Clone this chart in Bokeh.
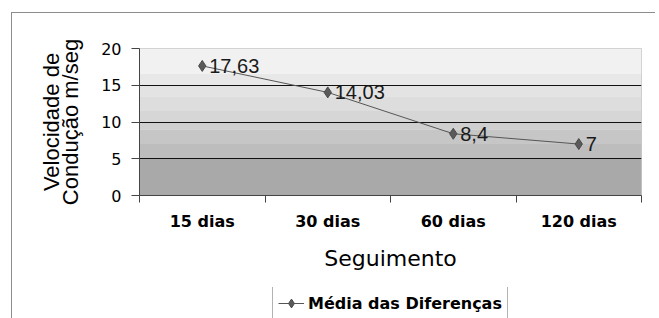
import numpy as np
from bokeh.plotting import figure
from bokeh.layouts import column
from bokeh.models import (FixedTicker, Legend, LegendItem, ColumnDataSource, Range1d,
                          LinearAxis)
from bokeh.core.properties import value
from bokeh.embed import file_html
from bokeh.resources import INLINE

# ---- data ----
categories = ["15 dias", "30 dias", "60 dias", "120 dias"]
values = [17.63, 14.03, 8.4, 7]
value_labels = ["17,63", "14,03", "8,4", "7"]
y_ticks = [0, 5, 10, 15, 20]
series_name = "Média das Diferenças"
y_title_lines = ["Velocidade de", "Condução m/seg"]
x_title = "Seguimento"

# background band edges (value units) and greys
band_bottoms = [0, 5, 7, 9, 10, 11.5, 13.5, 15, 16.6]
band_tops = [5, 7, 9, 10, 11.5, 13.5, 15, 16.6, 20]
band_colors = ["#a9a9a9", "#bdbdbd", "#c6c6c6", "#cfcfcf", "#d6d6d6",
               "#dddddd", "#e3e3e3", "#e8e8e8", "#f1f1f1"]

n = len(categories)
xs = np.arange(n) + 0.5

LINE_COL = "#555555"
MK_FILL = "#5a5a5a"
MK_LINE = "#4a4a4a"
BORDER = "#8c8c8c"

p = figure(width=655, height=287, output_backend="svg", toolbar_location=None,
           x_range=Range1d(0, n), y_range=Range1d(0, 20),
           min_border_left=139, min_border_right=14, min_border_top=48,
           min_border_bottom=92)
p.styles = {"background":
            f"linear-gradient({BORDER},{BORDER}) 11px 12px / 1px 100% no-repeat, "
            f"linear-gradient({BORDER},{BORDER}) 11px 12px / 100% 1px no-repeat"}

p.background_fill_color = "white"
p.border_fill_alpha = 0
p.outline_line_color = "#c8c8c8"

# background bands
bands = p.quad(left=0, right=n, bottom=band_bottoms, top=band_tops,
               fill_color=band_colors, line_color=None)
bands.level = "image"

# grid
p.xgrid.visible = False
p.ygrid.ticker = FixedTicker(ticks=[5, 10, 15])
p.ygrid.grid_line_color = "#111111"
p.ygrid.grid_line_width = 1
p.ygrid.level = "underlay"

# series
src = ColumnDataSource(dict(x=xs, y=values, lab=value_labels))
p.line("x", "y", source=src, line_color=LINE_COL, line_width=1)
p.scatter("x", "y", source=src, marker="diamond", size=11,
          fill_color=MK_FILL, line_color=MK_LINE)
p.text("x", "y", text="lab", source=src, x_offset=7, text_baseline="middle",
       text_align="left", text_font=value("Liberation Sans"),
       text_font_size="20px", text_color="#1a1a1a")

# y axis
ya = p.yaxis[0]
ya.ticker = FixedTicker(ticks=y_ticks)
ya.major_tick_in = 0
ya.major_tick_out = 8
ya.minor_tick_out = 0
ya.minor_tick_in = 0
ya.axis_line_color = "#444444"
ya.major_tick_line_color = "#444444"
ya.major_label_text_font = "DejaVu Sans"
ya.major_label_text_font_size = "16px"
ya.major_label_text_color = "black"
ya.major_label_standoff = 10
ya.axis_label = y_title_lines[1]
ya.axis_label_text_font = "Liberation Sans"
ya.axis_label_text_font_size = "22px"
ya.axis_label_text_font_style = "normal"
ya.axis_label_text_color = "black"
ya.axis_label_standoff = 15

# outer (first) line of the y title, as a bare extra axis
ya2 = LinearAxis(ticker=FixedTicker(ticks=[]), axis_line_color=None,
                 major_tick_out=0, major_tick_in=0, minor_tick_out=0, minor_tick_in=0,
                 axis_label=y_title_lines[0], axis_label_text_font="Liberation Sans",
                 axis_label_text_font_size="22px", axis_label_text_font_style="normal",
                 axis_label_text_color="black", axis_label_standoff=-8)
p.add_layout(ya2, "left")

# x axis
xa = p.xaxis[0]
xa.ticker = FixedTicker(ticks=list(xs), minor_ticks=list(range(n + 1)))
xa.major_label_overrides = {float(x): c for x, c in zip(xs, categories)}
xa.major_tick_in = 0
xa.major_tick_out = 0
xa.minor_tick_in = 0
xa.minor_tick_out = 7
xa.axis_line_color = "#444444"
xa.minor_tick_line_color = "#444444"
xa.major_label_text_font = "DejaVu Sans"
xa.major_label_text_font_style = "bold"
xa.major_label_text_font_size = "16px"
xa.major_label_text_color = "black"
xa.major_label_standoff = 9
xa.axis_label = x_title
xa.axis_label_text_font = "DejaVu Sans"
xa.axis_label_text_font_size = "22px"
xa.axis_label_text_font_style = "normal"
xa.axis_label_text_color = "black"
xa.axis_label_standoff = 12

# ---- legend strip (separate small figure below the chart) ----
LH = 31
lf = figure(width=655, height=LH, output_backend="svg", toolbar_location=None,
            x_range=Range1d(0, 100), y_range=Range1d(0, LH),
            x_axis_type=None, y_axis_type=None, min_border=0)
lf.styles = {"background":
             f"linear-gradient({BORDER},{BORDER}) 11px 0px / 1px 100% no-repeat"}
lf.outline_line_color = None
lf.background_fill_alpha = 0
lf.border_fill_alpha = 0
lf.grid.visible = False
# placeholder renderers (kept outside the visible range) that only feed the legend
lr = lf.line(x=[-1000, -999], y=[-1000, -1000], line_color=LINE_COL, line_width=1)
ls = lf.scatter(x=[-1000], y=[-1000], marker="diamond", size=10,
                fill_color=MK_FILL, line_color=MK_LINE)

legend = Legend(items=[LegendItem(label=series_name, renderers=[lr, ls])],
                orientation="horizontal", location=(133, -2))
legend.label_text_font = "DejaVu Sans"
legend.label_text_font_style = "bold"
legend.label_text_font_size = "16px"
legend.label_text_color = "black"
legend.border_line_color = "#666666"
legend.background_fill_color = "white"
legend.padding = 5
legend.margin = 0
legend.spacing = 0
legend.glyph_width = 26
legend.glyph_height = 22
legend.label_height = 22
legend.label_standoff = 4
lf.add_layout(legend)

layout = column(p, lf, spacing=0)
open("out.html", "w").write(file_html(layout, INLINE))
